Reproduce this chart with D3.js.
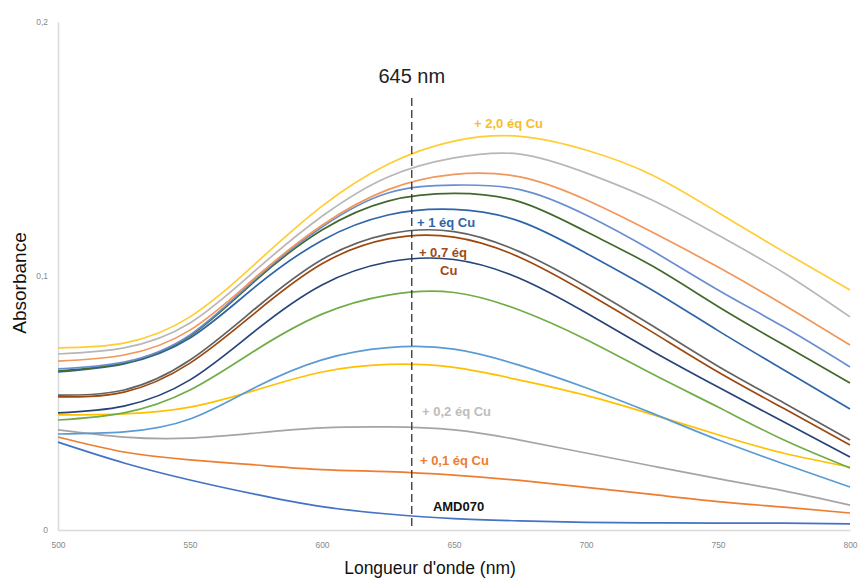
<!DOCTYPE html>
<html>
<head>
<meta charset="utf-8">
<script src="https://cdn.jsdelivr.net/npm/d3@7"></script>
<style>
  html, body { margin: 0; padding: 0; background: #fff; }
  svg { display: block; font-family: "Liberation Sans", Arial, Helvetica, sans-serif; }
</style>
</head>
<body>
<svg id="chart" width="858" height="581"></svg>
<script>
// ---- Data ----
const wavelengths = [500, 525, 550, 575, 600, 625, 650, 675, 700, 725, 750, 775, 800];

const seriesNames = ["AMD070", "+0,1", "+0,2", "+0,3", "+0,4", "+0,5", "+0,6", "+0,7", "+0,8", "+1,0", "+1,2", "+1,4", "+1,6", "+1,8", "+2,0"];

const absAMD070 = [0.0346, 0.0264, 0.0197, 0.0140, 0.0092, 0.0063, 0.0045, 0.0036, 0.0030, 0.0028, 0.0027, 0.0027, 0.0024];
const abs01 = [0.0366, 0.0307, 0.0276, 0.0256, 0.0238, 0.0230, 0.0216, 0.0195, 0.0168, 0.0140, 0.0112, 0.0090, 0.0067];
const abs02 = [0.0394, 0.0366, 0.0362, 0.0382, 0.0402, 0.0406, 0.0394, 0.0354, 0.0303, 0.0252, 0.0202, 0.0154, 0.0098];
const abs03 = [0.0453, 0.0457, 0.0484, 0.0551, 0.0622, 0.0652, 0.0640, 0.0590, 0.0530, 0.0455, 0.0375, 0.0302, 0.0248];
const abs04 = [0.0378, 0.0386, 0.0437, 0.0563, 0.0670, 0.0718, 0.0712, 0.0648, 0.0560, 0.0460, 0.0355, 0.0260, 0.0169];
const abs05 = [0.0433, 0.0461, 0.0551, 0.0709, 0.0850, 0.0925, 0.0935, 0.0865, 0.0750, 0.0615, 0.0484, 0.0354, 0.0244];
const abs06 = [0.0461, 0.0488, 0.0591, 0.0787, 0.0965, 0.1055, 0.1065, 0.0990, 0.0855, 0.0705, 0.0563, 0.0425, 0.0287];
const abs07 = [0.0524, 0.0543, 0.0657, 0.0858, 0.1048, 0.1146, 0.1153, 0.1073, 0.0935, 0.0780, 0.0622, 0.0478, 0.0335];
const abs08 = [0.0531, 0.0551, 0.0669, 0.0874, 0.1065, 0.1165, 0.1175, 0.1095, 0.0960, 0.0805, 0.0645, 0.0500, 0.0354];
const abs10 = [0.0622, 0.0654, 0.0756, 0.0960, 0.1140, 0.1240, 0.1262, 0.1215, 0.1090, 0.0945, 0.0785, 0.0630, 0.0476];
const abs12 = [0.0626, 0.0657, 0.0764, 0.0984, 0.1181, 0.1295, 0.1325, 0.1292, 0.1175, 0.1040, 0.0880, 0.0728, 0.0579];
const abs14 = [0.0634, 0.0661, 0.0768, 0.0990, 0.1193, 0.1327, 0.1358, 0.1340, 0.1240, 0.1100, 0.0945, 0.0799, 0.0642];
const abs16 = [0.0665, 0.0689, 0.0787, 0.0996, 0.1200, 0.1340, 0.1400, 0.1390, 0.1300, 0.1173, 0.1035, 0.0886, 0.0728];
const abs18 = [0.0693, 0.0717, 0.0815, 0.1024, 0.1235, 0.1390, 0.1465, 0.1480, 0.1406, 0.1299, 0.1161, 0.1012, 0.0839];
const abs20 = [0.0717, 0.0736, 0.0839, 0.1051, 0.1275, 0.1440, 0.1531, 0.1550, 0.1496, 0.1398, 0.1250, 0.1095, 0.0945];

const seriesValues = [absAMD070, abs01, abs02, abs03, abs04, abs05, abs06, abs07, abs08, abs10, abs12, abs14, abs16, abs18, abs20];
const seriesColors = ["#4472C4", "#ED7D31", "#A5A5A5", "#FFC000", "#5B9BD5", "#70AD47", "#264478", "#9E480E", "#636363", "#2E65A8", "#43682B", "#698ED0", "#F1975A", "#B7B7B7", "#FFCD33"];

const xTicks = [500, 550, 600, 650, 700, 750, 800];
const yTicks = [0, 0.1, 0.2];
const markerWavelength = 634;        // where the dashed line sits on the axis
const markerLabel = "645 nm";

// annotation labels: text, colour, anchor wavelength, anchor absorbance
const annText = ["+ 2,0 éq Cu", "+ 1 éq Cu", "+ 0,7 éq", "Cu", "+ 0,2 éq Cu", "+ 0,1 éq Cu", "AMD070"];
const annColor = ["#F5BE2A", "#2E65A8", "#9E4A1A", "#9E4A1A", "#BDBDBD", "#ED7D31", "#111111"];
const annWl = [657.6, 636.0, 636.7, 648.0, 637.9, 637.1, 642.0];
const annAbs = [0.1583, 0.1193, 0.1075, 0.1004, 0.0449, 0.0256, 0.0075];
const annAnchor = ["start", "start", "start", "middle", "start", "start", "start"];

// ---- Drawing ----
const svg = d3.select("#chart");
const x = d3.scaleLinear().domain([500, 800]).range([58, 850]);
const y = d3.scaleLinear().domain([0, 0.2]).range([530, 22]);

const fmt = d => d === 0 ? "0" : d3.format(".1f")(d).replace(".", ",");

// y axis
const gy = svg.append("g").attr("transform", "translate(58,0)")
  .call(d3.axisLeft(y).tickValues(yTicks).tickFormat(fmt).tickSize(0).tickPadding(10));
gy.select(".domain").attr("stroke", "#d9d9d9").attr("stroke-width", 1.5);
gy.selectAll("text").attr("fill", "#8a8a8a").style("font-size", "8.5px")
  .style("font-family", "'Liberation Sans', Arial, sans-serif");

// x axis
const gx = svg.append("g").attr("transform", "translate(0,530)")
  .call(d3.axisBottom(x).tickValues(xTicks).tickFormat(d3.format("d")).tickSize(0).tickPadding(12));
gx.select(".domain").attr("stroke", "#d9d9d9").attr("stroke-width", 1.5);
gx.selectAll("text").attr("fill", "#8a8a8a").style("font-size", "8.5px")
  .style("font-family", "'Liberation Sans', Arial, sans-serif");

// lines
const line = d3.line()
  .x((d, i) => x(wavelengths[i]))
  .y(d => y(d))
  .curve(d3.curveNatural);

svg.append("g").selectAll("path")
  .data(seriesValues)
  .join("path")
  .attr("d", d => line(d))
  .attr("fill", "none")
  .attr("stroke", (d, i) => seriesColors[i])
  .attr("stroke-width", 1.7)
  .attr("stroke-linejoin", "round");

// dashed marker line
svg.append("line")
  .attr("x1", x(markerWavelength)).attr("x2", x(markerWavelength))
  .attr("y1", 98).attr("y2", y(0))
  .attr("stroke", "#333").attr("stroke-width", 1.3)
  .attr("stroke-dasharray", "8,4");

svg.append("text")
  .attr("x", x(markerWavelength)).attr("y", 83)
  .attr("text-anchor", "middle")
  .attr("fill", "#222")
  .style("font-size", "20px")
  .text(markerLabel);

// annotations
svg.append("g").selectAll("text")
  .data(annText)
  .join("text")
  .attr("x", (d, i) => x(annWl[i]))
  .attr("y", (d, i) => y(annAbs[i]))
  .attr("text-anchor", (d, i) => annAnchor[i])
  .attr("fill", (d, i) => annColor[i])
  .style("font-size", "13px")
  .style("font-weight", "bold")
  .text(d => d);

// axis titles
svg.append("text")
  .attr("x", 430).attr("y", 574)
  .attr("text-anchor", "middle")
  .attr("fill", "#111")
  .style("font-size", "17.5px")
  .text("Longueur d'onde (nm)");

svg.append("text")
  .attr("transform", "translate(26,283) rotate(-90)")
  .attr("text-anchor", "middle")
  .attr("fill", "#111")
  .style("font-size", "19px")
  .text("Absorbance");
</script>
</body>
</html>
